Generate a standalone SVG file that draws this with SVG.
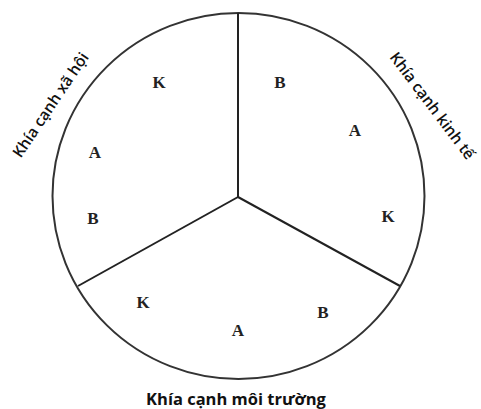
<svg xmlns="http://www.w3.org/2000/svg" width="481" height="409" viewBox="0 0 481 409">
<style>
.ring{fill:#fff;stroke:#333;stroke-width:2}
.div{stroke:#222;stroke-width:2;fill:none}
.l{font-family:"Liberation Serif",serif;font-weight:bold;font-size:17px;fill:#222;text-anchor:middle;dominant-baseline:central}
.cap{font-family:"Open Sans","Liberation Sans",sans-serif;font-weight:600;font-size:15.5px;fill:#111;text-anchor:middle}
.capb{font-family:"Open Sans","Liberation Sans",sans-serif;font-weight:bold;font-size:16.5px;fill:#111;text-anchor:middle}
</style>
<rect width="481" height="409" fill="#fff"/>
<g id="circle"><ellipse class="ring" cx="238.5" cy="196" rx="186" ry="183"/></g>
<g id="connectors">
<line class="div" x1="238" y1="13" x2="238" y2="197"/>
<line class="div" x1="238" y1="197" x2="78" y2="286"/>
<line class="div" x1="238" y1="197" x2="400" y2="286"/>
</g>
<g id="social">
<text class="l" x="159" y="82">K</text>
<text class="l" x="95" y="152">A</text>
<text class="l" x="93" y="218">B</text>
<text class="cap" transform="translate(55,108) rotate(-56)">Khía cạnh xã hội</text>
</g>
<g id="economic">
<text class="l" x="280" y="82">B</text>
<text class="l" x="355" y="130">A</text>
<text class="l" x="388" y="216">K</text>
<text class="cap" transform="translate(428,109) rotate(53)">Khía cạnh kinh tế</text>
</g>
<g id="environment">
<text class="l" x="143" y="302">K</text>
<text class="l" x="238" y="330">A</text>
<text class="l" x="323" y="312">B</text>
<text class="capb" x="236" y="405">Khía cạnh môi trường</text>
</g>
</svg>
